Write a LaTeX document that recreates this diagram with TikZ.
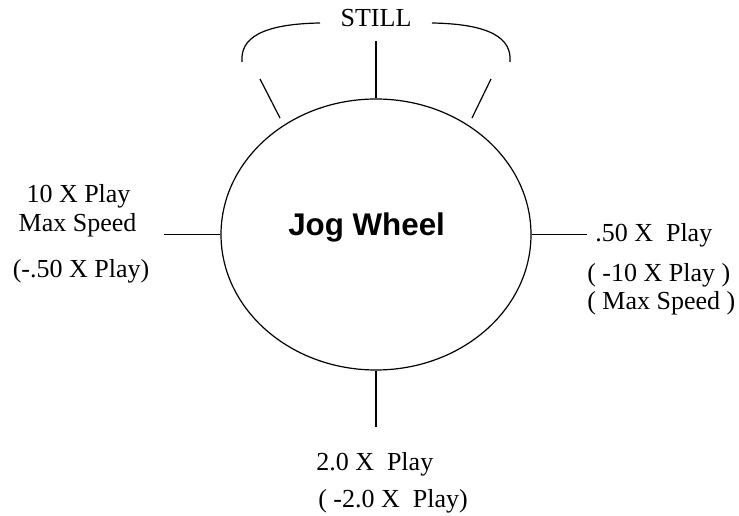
\documentclass[tikz,border=0pt]{standalone}
\usepackage{fontspec}
\setmainfont{Liberation Serif}
\setsansfont{Liberation Sans}
\usetikzlibrary{shapes.geometric}
\begin{document}
\begin{tikzpicture}[x=0.75pt,y=-0.75pt,
  ln/.style={line width=0.9pt},
  lbl/.style={inner sep=0pt,font=\fontsize{19.5}{23}\selectfont},
  title/.style={inner sep=0pt,font=\sffamily\bfseries\fontsize{23.5}{28}\selectfont}]
\useasboundingbox (0,0) rectangle (739,516);
\node[ellipse,draw,ln,minimum width=232.5pt,minimum height=203.25pt,inner sep=0pt] (wheel) at (376,234.5) {};
\node[title,anchor=base west] (jw) at (288,236) {Jog Wheel};
% free ends
\coordinate (topend) at (376,41);
\coordinate (leftend) at (164,234.5);
\coordinate (rightend) at (587,234.5);
\coordinate (botend) at (376,427);
\draw[ln] (wheel.north) -- (topend);
\draw[ln] (wheel.west) -- (leftend);
\draw[ln] (wheel.east) -- (rightend);
\draw[ln] (wheel.south) -- (botend);
% STILL bracket
\node[lbl,anchor=base] (still) at (376,27) {STILL};
\coordinate (bl1) at (320,23);
\coordinate (bl2) at (242,62);
\coordinate (br1) at (432,23);
\coordinate (br2) at (510,62);
\draw[ln] (bl1) .. controls (262,24) and (240,38) .. (bl2);
\draw[ln] (br1) .. controls (490,24) and (512,38) .. (br2);
\coordinate (sl1) at (260,79);
\coordinate (sl2) at (280,118);
\coordinate (sr1) at (491,79);
\coordinate (sr2) at (472,118);
\draw[ln] (sl1) -- (sl2);
\draw[ln] (sr1) -- (sr2);
% left labels
\node[lbl,anchor=base] (l1) at (78.5,203) {10 X Play};
\node[lbl,anchor=base] (l2) at (77.5,231.5) {Max Speed};
\node[lbl,anchor=base] (l3) at (81,278) {(-.50 X Play)};
% right labels
\node[lbl,anchor=base west] (r1) at (595,242) {.50 X\ \ Play};
\node[lbl,anchor=base west] (r2) at (587,281.5) {( -10 X Play )};
\node[lbl,anchor=base west] (r3) at (587,310) {( Max Speed )};
% bottom labels
\node[lbl,anchor=base west] (b1) at (316,470) {2.0 X\ \ Play};
\node[lbl,anchor=base west] (b2) at (318,508) {( -2.0 X\ \ Play)};
\end{tikzpicture}
\end{document}
